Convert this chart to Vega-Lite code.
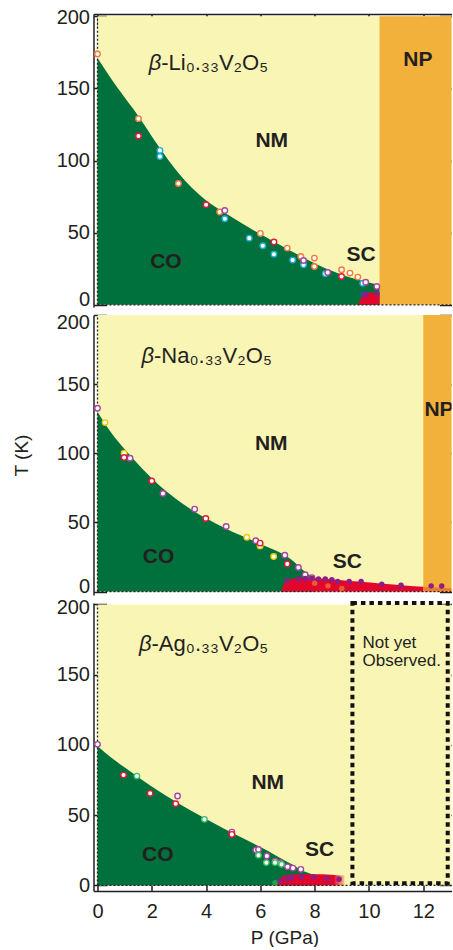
{
  "$schema": "https://vega.github.io/schema/vega-lite/v6.json",
  "padding": {"left": 11.5, "top": 7, "right": 0, "bottom": 0},
  "spacing": 8,
  "bounds": "flush",
  "config": {
    "font": "Liberation Sans",
    "view": {"stroke": null},
    "axis": {"grid": false, "zindex": 1, "domainColor": "#231f20", "tickColor": "#231f20", "labelColor": "#231f20", "titleColor": "#231f20", "labelFontSize": 20, "titleFontSize": 19, "titleFontWeight": "normal", "tickSize": -13, "tickWidth": 1.5, "domainWidth": 1.5, "labelPadding": 17, "labelFlush": false, "labelOverlap": false, "labelBound": false}
  },
  "datasets": {
    "lines": [{"p": 0, "p2": 0, "t": 0, "t2": 200}, {"p": 0, "p2": 13.2, "t": 0, "t2": 0}],
    "r1": [{"k": "NM", "p": 0, "p2": 13.2, "t": 0, "t2": 200}, {"k": "NP", "p": 10.39, "p2": 13.2, "t": 0, "t2": 200}],
    "r2": [{"k": "NM", "p": 0, "p2": 13.2, "t": 0, "t2": 200}, {"k": "NP", "p": 12.0, "p2": 13.2, "t": 0, "t2": 200}],
    "r3": [{"k": "NM", "p": 0, "p2": 13.2, "t": 0, "t2": 200}],
    "co1": [{"p": 0, "t": 171}, {"p": 0.75, "t": 150}, {"p": 1.51, "t": 130.6}, {"p": 2.25, "t": 109.8}, {"p": 2.98, "t": 91.3}, {"p": 3.97, "t": 72.8}, {"p": 4.7, "t": 63.6}, {"p": 5.93, "t": 49.7}, {"p": 7.16, "t": 37}, {"p": 8.39, "t": 25.4}, {"p": 9.61, "t": 17.3}, {"p": 10.39, "t": 13.6}],
    "co2": [{"p": 0, "t": 130.1}, {"p": 0.5, "t": 115}, {"p": 1.02, "t": 102.5}, {"p": 2.25, "t": 77.2}, {"p": 3.47, "t": 59.1}, {"p": 4.7, "t": 45.8}, {"p": 5.93, "t": 35}, {"p": 7.16, "t": 22.9}, {"p": 7.6, "t": 15}, {"p": 7.95, "t": 10}],
    "co3": [{"p": 0, "t": 99.2}, {"p": 0.5, "t": 91}, {"p": 1.02, "t": 83.7}, {"p": 2.25, "t": 67.1}, {"p": 3.47, "t": 52.9}, {"p": 4.7, "t": 39.9}, {"p": 5.93, "t": 28}, {"p": 6.6, "t": 21}, {"p": 7.16, "t": 15}, {"p": 7.6, "t": 10}, {"p": 7.95, "t": 7.6}],
    "sc1": [{"p": 9.61, "t": 0}, {"p": 9.66, "t": 3}, {"p": 9.75, "t": 5.8}, {"p": 9.88, "t": 7.6}, {"p": 10.05, "t": 8.5}, {"p": 10.39, "t": 8.8}],
    "sc2": [{"p": 6.76, "t": 0}, {"p": 6.85, "t": 4.5}, {"p": 7.0, "t": 8.0}, {"p": 7.3, "t": 9.4}, {"p": 7.8, "t": 9.8}, {"p": 8.4, "t": 9.2}, {"p": 9.0, "t": 8.2}, {"p": 9.6, "t": 7.2}, {"p": 10.5, "t": 5.6}, {"p": 11.3, "t": 4.4}, {"p": 12.0, "t": 3.5}],
    "scnp2": [{"p": 12.0, "t": 3.5}, {"p": 12.5, "t": 2.9}, {"p": 13.2, "t": 2.2}],
    "sc3": [{"p": 6.6, "t": 0}, {"p": 6.68, "t": 3}, {"p": 6.78, "t": 5.5}, {"p": 6.92, "t": 7.3}, {"p": 7.3, "t": 7.9}, {"p": 8.0, "t": 7.9}, {"p": 8.6, "t": 7.6}, {"p": 9.1, "t": 7.0}],
    "box3": [{"p": 9.39, "p2": 12.9, "t": 1.6, "t2": 201}],
    "note3": [{"p": 9.76, "t": 172.7, "text": "Not yet\nObserved."}],
    "op1": [
      {"k": "o_orange", "p": 0, "t": 173.8}, {"k": "o_orange", "p": 1.51, "t": 129}, {"k": "o_orange", "p": 2.98, "t": 84.1}, {"k": "o_orange", "p": 4.5, "t": 64.3}, {"k": "o_orange", "p": 6.0, "t": 49.5}, {"k": "o_orange", "p": 6.99, "t": 39.3}, {"k": "o_orange", "p": 7.49, "t": 33.5}, {"k": "o_orange", "p": 7.99, "t": 32.4}, {"k": "o_orange", "p": 7.99, "t": 26.6}, {"k": "o_orange", "p": 8.99, "t": 24.3}, {"k": "o_orange", "p": 9.3, "t": 22}, {"k": "o_orange", "p": 9.59, "t": 19.2},
      {"k": "o_red", "p": 1.51, "t": 117}, {"k": "o_red", "p": 4.0, "t": 69.3}, {"k": "o_red", "p": 6.5, "t": 43.5}, {"k": "o_red", "p": 8.99, "t": 19.6},
      {"k": "o_cyan", "p": 2.3, "t": 107}, {"k": "o_cyan", "p": 2.3, "t": 102.8}, {"k": "o_cyan", "p": 4.69, "t": 59.6}, {"k": "o_cyan", "p": 5.59, "t": 46.2}, {"k": "o_cyan", "p": 6.09, "t": 40.9}, {"k": "o_cyan", "p": 6.5, "t": 35.1}, {"k": "o_cyan", "p": 7.19, "t": 31}, {"k": "o_cyan", "p": 7.59, "t": 27.7}, {"k": "o_cyan", "p": 8.39, "t": 21.5}, {"k": "o_cyan", "p": 9.77, "t": 15},
      {"k": "o_purple", "p": 4.69, "t": 65.4}, {"k": "o_purple", "p": 7.59, "t": 30.7}, {"k": "o_purple", "p": 8.48, "t": 22.4}, {"k": "o_purple", "p": 9.88, "t": 15.7}, {"k": "o_purple", "p": 10.29, "t": 12.7}
    ],
    "fp1": [{"k": "f_blue", "p": 9.77, "t": 7.4}, {"k": "f_purple", "p": 9.88, "t": 7.4}, {"k": "f_purple", "p": 10.29, "t": 7.8}],
    "op2": [
      {"k": "o_purple", "p": 0, "t": 132.6}, {"k": "o_purple", "p": 1.2, "t": 96.4}, {"k": "o_purple", "p": 2.41, "t": 70.9}, {"k": "o_purple", "p": 3.58, "t": 59.6}, {"k": "o_purple", "p": 4.74, "t": 47}, {"k": "o_purple", "p": 5.83, "t": 36.7}, {"k": "o_purple", "p": 6.9, "t": 26.3}, {"k": "o_purple", "p": 7.4, "t": 17.4}, {"k": "o_purple", "p": 7.65, "t": 12.1}, {"k": "o_purple", "p": 7.9, "t": 10.1},
      {"k": "o_yellow", "p": 0.28, "t": 122.2}, {"k": "o_yellow", "p": 0.98, "t": 100}, {"k": "o_yellow", "p": 5.5, "t": 39.3}, {"k": "o_yellow", "p": 5.99, "t": 33}, {"k": "o_yellow", "p": 6.49, "t": 25.3},
      {"k": "o_red", "p": 0.98, "t": 96.9}, {"k": "o_red", "p": 2.0, "t": 80}, {"k": "o_red", "p": 3.99, "t": 52.8}, {"k": "o_red", "p": 5.99, "t": 35}, {"k": "o_red", "p": 6.99, "t": 20}
    ],
    "fp2": [
      {"k": "f_orange", "p": 8.0, "t": 6}, {"k": "f_orange", "p": 8.49, "t": 4.1}, {"k": "f_orange", "p": 9.0, "t": 2.2},
      {"k": "f_purple", "p": 6.99, "t": 8.0}, {"k": "f_purple", "p": 7.4, "t": 9.0}, {"k": "f_purple", "p": 7.65, "t": 9.4}, {"k": "f_purple", "p": 7.9, "t": 9.7}, {"k": "f_purple", "p": 8.14, "t": 9.0}, {"k": "f_purple", "p": 8.39, "t": 9.0}, {"k": "f_purple", "p": 8.63, "t": 8.5}, {"k": "f_purple", "p": 8.85, "t": 7.3}, {"k": "f_purple", "p": 9.27, "t": 7.3}, {"k": "f_purple", "p": 9.71, "t": 7.3}, {"k": "f_purple", "p": 10.47, "t": 5.3}, {"k": "f_purple", "p": 11.18, "t": 4.6}, {"k": "f_purple", "p": 12.29, "t": 4.1}, {"k": "f_purple", "p": 12.68, "t": 4.0}
    ],
    "op3": [
      {"k": "o_purple", "p": 0, "t": 100.4}, {"k": "o_purple", "p": 2.95, "t": 63.6}, {"k": "o_purple", "p": 4.95, "t": 37.9}, {"k": "o_purple", "p": 5.83, "t": 25.1}, {"k": "o_purple", "p": 5.93, "t": 25.6}, {"k": "o_purple", "p": 6.24, "t": 20.9}, {"k": "o_purple", "p": 6.54, "t": 17.3}, {"k": "o_purple", "p": 6.73, "t": 16.1}, {"k": "o_purple", "p": 7.0, "t": 13.3}, {"k": "o_purple", "p": 7.2, "t": 12.3}, {"k": "o_purple", "p": 7.49, "t": 11.4},
      {"k": "o_red", "p": 0.96, "t": 78.5}, {"k": "o_red", "p": 1.94, "t": 65.5}, {"k": "o_red", "p": 2.88, "t": 58.1}, {"k": "o_red", "p": 4.95, "t": 36.3},
      {"k": "o_green", "p": 1.45, "t": 77.8}, {"k": "o_green", "p": 3.94, "t": 47}, {"k": "o_green", "p": 5.93, "t": 21.5}, {"k": "o_green", "p": 6.22, "t": 16.2}, {"k": "o_green", "p": 6.54, "t": 16.2}, {"k": "o_green", "p": 6.78, "t": 15}
    ],
    "fp3": [
      {"k": "f_green", "p": 6.54, "t": 1.9},
      {"k": "f_purple", "p": 6.73, "t": 3.1}, {"k": "f_purple", "p": 7.0, "t": 4.6}, {"k": "f_purple", "p": 7.16, "t": 5.5}, {"k": "f_purple", "p": 7.52, "t": 5.9}, {"k": "f_purple", "p": 7.96, "t": 6.2}, {"k": "f_purple", "p": 8.45, "t": 4.8}, {"k": "f_purple", "p": 8.9, "t": 4.3}
    ],
    "lab1": [{"p": 6.42, "t": 113.3, "text": "NM"}, {"p": 2.52, "t": 29.6, "text": "CO"}, {"p": 9.71, "t": 34.7, "text": "SC"}, {"p": 11.8, "t": 169.4, "text": "NP"}],
    "lab2": [{"p": 6.4, "t": 106.7, "text": "NM"}, {"p": 2.25, "t": 24.8, "text": "CO"}, {"p": 9.2, "t": 21.2, "text": "SC"}, {"p": 12.58, "t": 131.4, "text": "NP"}],
    "lab3": [{"p": 6.27, "t": 73.1, "text": "NM"}, {"p": 2.22, "t": 21.6, "text": "CO"}, {"p": 8.18, "t": 25.1, "text": "SC"}],
    "f1": [{"p": 2.35, "t": 167.5, "beta": "β", "rest": "-Li₀.₃₃V₂O₅"}],
    "f2": [{"p": 2.08, "t": 170.5, "beta": "β", "rest": "-Na₀.₃₃V₂O₅"}],
    "f3": [{"p": 1.99, "t": 172, "beta": "β", "rest": "-Ag₀.₃₃V₂O₅"}]
  },
  "vconcat": [
    {
      "width": 358, "height": 293,
      "encoding": {
        "x": {"field": "p", "type": "quantitative", "scale": {"domain": [-0.147, 13.04], "nice": false, "zero": false}, "axis": {"orient": "top", "values": [0, 2, 4, 6, 8, 10, 12], "labels": false, "title": null}},
        "y": {"field": "t", "type": "quantitative", "scale": {"domain": [-1.5, 201.5], "nice": false, "zero": false}, "axis": null}
      },
      "resolve": {"axis": {"y": "independent"}},
      "layer": [
        {"data": {"name": "r1"}, "mark": {"type": "rect", "clip": true},
         "encoding": {
           "x2": {"field": "p2"},
           "y": {"field": "t", "type": "quantitative", "scale": {"domain": [-1.5, 201.5], "nice": false, "zero": false}, "axis": {"orient": "left", "values": [0, 50, 100, 150, 200], "title": null, "labelOffset": {"condition": [{"test": "datum.value == 0", "value": -5}, {"test": "datum.value == 200", "value": 1}], "value": 0}}},
           "y2": {"field": "t2"},
           "fill": {"field": "k", "type": "nominal", "legend": null, "scale": {"domain": ["NM", "NP", "SCNP", "o_orange", "o_red", "o_cyan", "o_purple", "o_yellow", "o_green", "f_purple", "f_blue", "f_orange", "f_green"], "range": ["#F9F5B4", "#F2B13B", "#EE7A30", "#F47A3A", "#E3173A", "#1BAFD8", "#A8459F", "#EFCB0A", "#3DBE64", "#8C1E86", "#2B4F9E", "#EE5A2E", "#22A04A"]}}
         }},
        {"data": {"name": "co1"}, "mark": {"type": "area", "color": "#00703C", "interpolate": "monotone", "clip": true}, "encoding": {"y2": {"datum": 0}}},
        {"data": {"name": "sc1"}, "mark": {"type": "area", "color": "#E2062C", "interpolate": "monotone", "clip": true}, "encoding": {"y2": {"datum": 0}}},
        {"data": {"name": "lines"}, "mark": {"type": "rule", "color": "#231f20", "strokeDash": [2, 2], "strokeWidth": 1.3, "clip": true},
         "encoding": {
           "x2": {"field": "p2"},
           "y": {"field": "t", "type": "quantitative", "scale": {"domain": [-1.5, 201.5], "nice": false, "zero": false}, "axis": {"orient": "right", "values": [0, 50, 100, 150, 200], "labels": false, "domain": false, "tickSize": -12, "title": null}},
           "y2": {"field": "t2"}
         }},
        {"data": {"name": "op1"}, "mark": {"type": "point", "shape": "circle", "filled": true, "fill": "white", "strokeWidth": 1.4, "size": 30, "opacity": 1},
         "encoding": {"stroke": {"field": "k", "type": "nominal", "legend": null, "scale": {"domain": ["NM", "NP", "SCNP", "o_orange", "o_red", "o_cyan", "o_purple", "o_yellow", "o_green", "f_purple", "f_blue", "f_orange", "f_green"], "range": ["#F9F5B4", "#F2B13B", "#EE7A30", "#F47A3A", "#E3173A", "#1BAFD8", "#A8459F", "#EFCB0A", "#3DBE64", "#8C1E86", "#2B4F9E", "#EE5A2E", "#22A04A"]}}}},
        {"data": {"name": "fp1"}, "mark": {"type": "circle", "size": 30, "opacity": 1},
         "encoding": {"fill": {"field": "k", "type": "nominal", "legend": null, "scale": {"domain": ["NM", "NP", "SCNP", "o_orange", "o_red", "o_cyan", "o_purple", "o_yellow", "o_green", "f_purple", "f_blue", "f_orange", "f_green"], "range": ["#F9F5B4", "#F2B13B", "#EE7A30", "#F47A3A", "#E3173A", "#1BAFD8", "#A8459F", "#EFCB0A", "#3DBE64", "#8C1E86", "#2B4F9E", "#EE5A2E", "#22A04A"]}}}},
        {"data": {"name": "lab1"}, "mark": {"type": "text", "fontSize": 21, "fontWeight": "bold", "color": "#231f20", "clip": true}, "encoding": {"text": {"field": "text"}}},
        {"data": {"name": "f1"}, "mark": {"type": "text", "fontSize": 22, "fontStyle": "italic", "align": "right", "color": "#231f20"}, "encoding": {"text": {"field": "beta"}}},
        {"data": {"name": "f1"}, "mark": {"type": "text", "fontSize": 22, "align": "left", "color": "#231f20"}, "encoding": {"text": {"field": "rest"}}}
      ]
    },
    {
      "width": 358, "height": 280,
      "encoding": {
        "x": {"field": "p", "type": "quantitative", "scale": {"domain": [-0.147, 13.04], "nice": false, "zero": false}, "axis": null},
        "y": {"field": "t", "type": "quantitative", "scale": {"domain": [-2.5, 200], "nice": false, "zero": false}, "axis": null}
      },
      "resolve": {"axis": {"y": "independent"}},
      "layer": [
        {"data": {"name": "r2"}, "mark": {"type": "rect", "clip": true},
         "encoding": {
           "x2": {"field": "p2"},
           "y": {"field": "t", "type": "quantitative", "scale": {"domain": [-2.5, 200], "nice": false, "zero": false}, "axis": {"orient": "left", "values": [0, 50, 100, 150, 200], "title": "T (K)", "titlePadding": 25, "labelOffset": {"condition": [{"test": "datum.value == 0", "value": -5}, {"test": "datum.value == 200", "value": 7}], "value": 0}}},
           "y2": {"field": "t2"},
           "fill": {"field": "k", "type": "nominal", "legend": null, "scale": {"domain": ["NM", "NP", "SCNP", "o_orange", "o_red", "o_cyan", "o_purple", "o_yellow", "o_green", "f_purple", "f_blue", "f_orange", "f_green"], "range": ["#F9F5B4", "#F2B13B", "#EE7A30", "#F47A3A", "#E3173A", "#1BAFD8", "#A8459F", "#EFCB0A", "#3DBE64", "#8C1E86", "#2B4F9E", "#EE5A2E", "#22A04A"]}}
         }},
        {"data": {"name": "co2"}, "mark": {"type": "area", "color": "#00703C", "interpolate": "monotone", "clip": true}, "encoding": {"y2": {"datum": 0}}},
        {"data": {"name": "sc2"}, "mark": {"type": "area", "color": "#E2062C", "interpolate": "monotone", "clip": true}, "encoding": {"y2": {"datum": 0}}},
        {"data": {"name": "scnp2"}, "mark": {"type": "area", "color": "#EE7A30", "clip": true}, "encoding": {"y2": {"datum": 0}}},
        {"data": {"name": "lines"}, "mark": {"type": "rule", "color": "#231f20", "strokeDash": [2, 2], "strokeWidth": 1.3, "clip": true},
         "encoding": {
           "x2": {"field": "p2"},
           "y": {"field": "t", "type": "quantitative", "scale": {"domain": [-2.5, 200], "nice": false, "zero": false}, "axis": {"orient": "right", "values": [0, 50, 100, 150, 200], "labels": false, "domain": false, "tickSize": -12, "title": null}},
           "y2": {"field": "t2"}
         }},
        {"data": {"name": "op2"}, "mark": {"type": "point", "shape": "circle", "filled": true, "fill": "white", "strokeWidth": 1.4, "size": 30, "opacity": 1},
         "encoding": {"stroke": {"field": "k", "type": "nominal", "legend": null, "scale": {"domain": ["NM", "NP", "SCNP", "o_orange", "o_red", "o_cyan", "o_purple", "o_yellow", "o_green", "f_purple", "f_blue", "f_orange", "f_green"], "range": ["#F9F5B4", "#F2B13B", "#EE7A30", "#F47A3A", "#E3173A", "#1BAFD8", "#A8459F", "#EFCB0A", "#3DBE64", "#8C1E86", "#2B4F9E", "#EE5A2E", "#22A04A"]}}}},
        {"data": {"name": "fp2"}, "mark": {"type": "circle", "size": 30, "opacity": 1},
         "encoding": {"fill": {"field": "k", "type": "nominal", "legend": null, "scale": {"domain": ["NM", "NP", "SCNP", "o_orange", "o_red", "o_cyan", "o_purple", "o_yellow", "o_green", "f_purple", "f_blue", "f_orange", "f_green"], "range": ["#F9F5B4", "#F2B13B", "#EE7A30", "#F47A3A", "#E3173A", "#1BAFD8", "#A8459F", "#EFCB0A", "#3DBE64", "#8C1E86", "#2B4F9E", "#EE5A2E", "#22A04A"]}}}},
        {"data": {"name": "lab2"}, "mark": {"type": "text", "fontSize": 21, "fontWeight": "bold", "color": "#231f20", "clip": true}, "encoding": {"text": {"field": "text"}}},
        {"data": {"name": "f2"}, "mark": {"type": "text", "fontSize": 22, "fontStyle": "italic", "align": "right", "color": "#231f20"}, "encoding": {"text": {"field": "beta"}}},
        {"data": {"name": "f2"}, "mark": {"type": "text", "fontSize": 22, "align": "left", "color": "#231f20"}, "encoding": {"text": {"field": "rest"}}}
      ]
    },
    {
      "width": 358, "height": 288,
      "encoding": {
        "x": {"field": "p", "type": "quantitative", "scale": {"domain": [-0.147, 13.04], "nice": false, "zero": false}, "axis": {"orient": "bottom", "values": [0, 2, 4, 6, 8, 10, 12], "title": "P (GPa)", "labelPadding": 23, "titlePadding": 7, "titleX": 191}},
        "y": {"field": "t", "type": "quantitative", "scale": {"domain": [-4, 201], "nice": false, "zero": false}, "axis": null}
      },
      "resolve": {"axis": {"y": "independent"}},
      "layer": [
        {"data": {"name": "r3"}, "mark": {"type": "rect", "clip": true},
         "encoding": {
           "x2": {"field": "p2"},
           "y": {"field": "t", "type": "quantitative", "scale": {"domain": [-4, 201], "nice": false, "zero": false}, "axis": {"orient": "left", "values": [0, 50, 100, 150, 200], "title": null, "labelOffset": {"condition": [{"test": "datum.value == 200", "value": 3}], "value": 0}}},
           "y2": {"field": "t2"},
           "fill": {"field": "k", "type": "nominal", "legend": null, "scale": {"domain": ["NM", "NP", "SCNP", "o_orange", "o_red", "o_cyan", "o_purple", "o_yellow", "o_green", "f_purple", "f_blue", "f_orange", "f_green"], "range": ["#F9F5B4", "#F2B13B", "#EE7A30", "#F47A3A", "#E3173A", "#1BAFD8", "#A8459F", "#EFCB0A", "#3DBE64", "#8C1E86", "#2B4F9E", "#EE5A2E", "#22A04A"]}}
         }},
        {"data": {"name": "co3"}, "mark": {"type": "area", "color": "#00703C", "interpolate": "monotone", "clip": true}, "encoding": {"y2": {"datum": 0}}},
        {"data": {"name": "sc3"}, "mark": {"type": "area", "interpolate": "monotone", "clip": true, "fill": {"gradient": "linear", "x1": 0, "x2": 1, "y1": 0, "y2": 0, "stops": [{"offset": 0, "color": "#E2062C"}, {"offset": 0.84, "color": "#E2062C"}, {"offset": 1, "color": "#F9C98A"}]}}, "encoding": {"y2": {"datum": 0}}},
        {"data": {"name": "lines"}, "mark": {"type": "rule", "color": "#231f20", "strokeDash": [2, 2], "strokeWidth": 1.3, "clip": true},
         "encoding": {
           "x2": {"field": "p2"},
           "y": {"field": "t", "type": "quantitative", "scale": {"domain": [-4, 201], "nice": false, "zero": false}, "axis": {"orient": "right", "values": [0, 50, 100, 150, 200], "labels": false, "domain": false, "tickSize": -12, "title": null}},
           "y2": {"field": "t2"}
         }},
        {"data": {"name": "box3"}, "mark": {"type": "rect", "fill": null, "fillOpacity": 0, "stroke": "#111111", "strokeWidth": 4, "strokeDash": [4.5, 4]},
         "encoding": {"x2": {"field": "p2"}, "y2": {"field": "t2"}}},
        {"data": {"name": "op3"}, "mark": {"type": "point", "shape": "circle", "filled": true, "fill": "white", "strokeWidth": 1.4, "size": 30, "opacity": 1},
         "encoding": {"stroke": {"field": "k", "type": "nominal", "legend": null, "scale": {"domain": ["NM", "NP", "SCNP", "o_orange", "o_red", "o_cyan", "o_purple", "o_yellow", "o_green", "f_purple", "f_blue", "f_orange", "f_green"], "range": ["#F9F5B4", "#F2B13B", "#EE7A30", "#F47A3A", "#E3173A", "#1BAFD8", "#A8459F", "#EFCB0A", "#3DBE64", "#8C1E86", "#2B4F9E", "#EE5A2E", "#22A04A"]}}}},
        {"data": {"name": "fp3"}, "mark": {"type": "circle", "size": 30, "opacity": 1},
         "encoding": {"fill": {"field": "k", "type": "nominal", "legend": null, "scale": {"domain": ["NM", "NP", "SCNP", "o_orange", "o_red", "o_cyan", "o_purple", "o_yellow", "o_green", "f_purple", "f_blue", "f_orange", "f_green"], "range": ["#F9F5B4", "#F2B13B", "#EE7A30", "#F47A3A", "#E3173A", "#1BAFD8", "#A8459F", "#EFCB0A", "#3DBE64", "#8C1E86", "#2B4F9E", "#EE5A2E", "#22A04A"]}}}},
        {"data": {"name": "lab3"}, "mark": {"type": "text", "fontSize": 21, "fontWeight": "bold", "color": "#231f20", "clip": true}, "encoding": {"text": {"field": "text"}}},
        {"data": {"name": "note3"}, "mark": {"type": "text", "fontSize": 17, "align": "left", "baseline": "middle", "lineBreak": "\n", "lineHeight": 18.5, "color": "#231f20"}, "encoding": {"text": {"field": "text"}}},
        {"data": {"name": "f3"}, "mark": {"type": "text", "fontSize": 22, "fontStyle": "italic", "align": "right", "color": "#231f20"}, "encoding": {"text": {"field": "beta"}}},
        {"data": {"name": "f3"}, "mark": {"type": "text", "fontSize": 22, "align": "left", "color": "#231f20"}, "encoding": {"text": {"field": "rest"}}}
      ]
    }
  ]
}
